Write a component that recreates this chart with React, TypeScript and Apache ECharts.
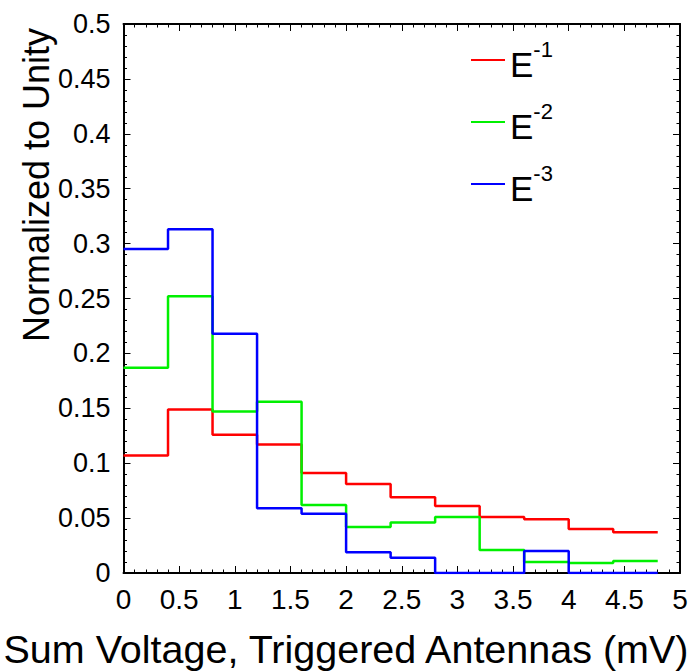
import React, { useEffect, useRef } from "react";
import * as echarts from "echarts";

const binEdges = [0, 0.4, 0.8, 1.2, 1.6, 2.0, 2.4, 2.8, 3.2, 3.6, 4.0, 4.4, 4.8];
const seriesNames = ["E-1", "E-2", "E-3"];
const redValues = [0.107, 0.149, 0.126, 0.117, 0.091, 0.081, 0.069, 0.061, 0.051, 0.049, 0.040, 0.037];
const greenValues = [0.187, 0.252, 0.147, 0.156, 0.062, 0.042, 0.046, 0.051, 0.021, 0.010, 0.009, 0.011];
const blueValues = [0.295, 0.313, 0.218, 0.059, 0.054, 0.019, 0.014, 0.0, 0.0, 0.020, 0.0, 0.0];
const colors = ["#ff0000", "#00f000", "#0000ff"];
const xTitle = "Sum Voltage, Triggered Antennas (mV)";
const yTitle = "Normalized to Unity";

function stepData(values: number[]) {
  const pts: number[][] = values.map((v, i) => [binEdges[i], v]);
  pts.push([binEdges[values.length], values[values.length - 1]]);
  return pts;
}

export default function App() {
  const ref = useRef<HTMLDivElement>(null);
  useEffect(() => {
    if (!ref.current) return;
    const chart = echarts.init(ref.current, null, { renderer: "svg" });
    const font = "'Liberation Sans', Arial, Helvetica, sans-serif";
    const axisCommon = {
      axisLine: { show: true, onZero: false, lineStyle: { color: "#000", width: 2 } },
      axisTick: { show: true, inside: true, length: 7, lineStyle: { color: "#000", width: 1 } },
      minorTick: { show: true, splitNumber: 5, length: 3.5, lineStyle: { color: "#000", width: 1 } },
      splitLine: { show: false },
    };
    const allValues = [redValues, greenValues, blueValues];
    chart.setOption({
      animation: false,
      grid: { left: 123.5, right: 13, top: 24, bottom: 98, containLabel: false },
      xAxis: [
        {
          type: "value", min: 0, max: 5, interval: 0.5, position: "bottom",
          ...axisCommon,
          axisLabel: { color: "#000", fontSize: 28, fontFamily: font, margin: 12 },
        },
        {
          type: "value", min: 0, max: 5, interval: 0.5, position: "top",
          ...axisCommon,
          axisLabel: { show: false },
        },
      ],
      yAxis: [
        {
          type: "value", min: 0, max: 0.5, interval: 0.05, position: "left",
          ...axisCommon,
          axisLabel: { color: "#000", fontSize: 27, fontFamily: font, margin: 13 },
        },
        {
          type: "value", min: 0, max: 0.5, interval: 0.05, position: "right",
          ...axisCommon,
          axisLabel: { show: false },
        },
      ],
      legend: {
        orient: "vertical",
        left: 466,
        top: 33,
        itemWidth: 34,
        itemHeight: 14,
        itemGap: 18,
        icon: "path://M0,6 L34,6 L34,8 L0,8 Z",
        formatter: (n: string) => `{e|E}{s|${n.slice(1)}}`,
        textStyle: {
          color: "#000",
          fontFamily: font,
          rich: {
            e: { fontSize: 35, fontFamily: font, color: "#000", lineHeight: 44, verticalAlign: "bottom", padding: [4, 0, 0, 0] },
            s: { fontSize: 22, fontFamily: font, color: "#000", lineHeight: 44, verticalAlign: "top", padding: [0, 0, 16, 0] },
          },
        },
        data: seriesNames,
      },
      series: seriesNames.map((name, i) => ({
        name,
        type: "line",
        step: "end",
        symbol: "none",
        data: stepData(allValues[i]),
        lineStyle: { color: colors[i], width: 2.5 },
        itemStyle: { color: colors[i] },
      })),
      graphic: [
        {
          type: "text",
          x: 346,
          y: 649,
          style: { text: xTitle, font: `39.5px ${font}`, fill: "#000", align: "center", verticalAlign: "middle" },
        },
        {
          type: "text",
          x: 36,
          y: 185,
          rotation: Math.PI / 2,
          style: { text: yTitle, font: `36px ${font}`, fill: "#000", align: "center", verticalAlign: "middle" },
        },
      ],
    });
    return () => chart.dispose();
  }, []);
  return <div ref={ref} style={{ width: 693, height: 671, position: "absolute", left: 0, top: 0 }} />;
}
